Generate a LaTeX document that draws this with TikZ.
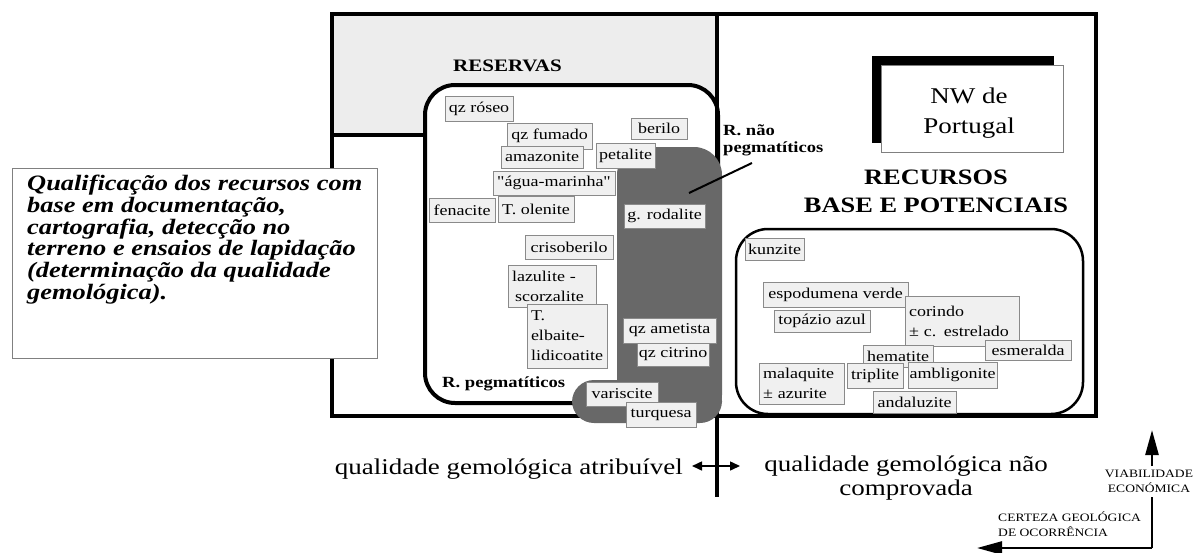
\documentclass[tikz,border=0pt]{standalone}
\usepackage{fontspec}
\setmainfont{Liberation Serif}[FakeStretch=1.2]
\newfontfamily\plainser{Liberation Serif}[FakeStretch=1.2]
\usetikzlibrary{arrows.meta}
\definecolor{resgray}{HTML}{EDEDED}
\definecolor{labfill}{HTML}{F0F0F0}
\definecolor{labdraw}{HTML}{8A8A8A}
\definecolor{darkreg}{HTML}{686868}
\newcommand\gembox[6]{\node[gem, minimum width=#4, minimum height=#5] (#1) at (#2,#3) {#6};}
\newcommand\gemboxl[7]{\node[gem, text width=#7, align=left, inner xsep=4pt, minimum height=#5] (#1) at (#2,#3) {#6};}
\begin{document}
\begin{tikzpicture}[x=1pt,y=-1pt,
  gem/.style={draw=labdraw, fill=labfill, line width=0.8pt, inner sep=1pt, font=\fontsize{15}{20}\selectfont},
  frame/.style={line width=4pt},
  axisline/.style={line width=2.5pt},
  bigtxt/.style={font=\fontsize{22.5}{24}\selectfont, inner sep=0pt},
  boldtxt/.style={font=\bfseries\fontsize{15.5}{17}\selectfont, inner sep=0pt},
  captxt/.style={font=\fontsize{11.3}{15}\selectfont, inner sep=0pt}]
\useasboundingbox (0,0) rectangle (1194,552);

% RESERVAS region
\fill[resgray] (332,14) rectangle (717,135);
% pegmatite rounded box
\draw[frame, fill=white, rounded corners=30] (425,85) rectangle (718,403);
\coordinate (hl0) at (332,135);
\coordinate (hl1) at (425,135);
\draw[line width=3.5pt] (hl0) -- (hl1);
% outer frame and divider
\draw[frame] (332,14) rectangle (1096,416);
\coordinate (dvtop) at (717,14);
\coordinate (dvbot) at (717,497);
\draw[line width=4.5pt] (dvtop) -- (dvbot);
% right rounded box
\draw[line width=2.5pt, rounded corners=32] (736,229) rectangle (1083,414);
% non-pegmatite dark region
\fill[darkreg, rounded corners=28] (617,147) rectangle (722,423);
\fill[darkreg, rounded corners=22] (572,380) rectangle (722,423);

% labels left
\gembox{qzr}{479}{108.5}{68}{25}{qz róseo}
\gembox{qzf}{549.5}{136}{85}{26}{qz fumado}
\gembox{ber}{659}{128.5}{56}{21}{berilo}
\gembox{ama}{542}{157}{82}{22}{amazonite}
\gembox{pet}{625.5}{155.5}{59}{25}{petalite}
\gembox{agm}{554}{183}{122}{24}{{\plainser"}água-marinha{\plainser"}}
\gembox{fen}{462}{210}{66}{24}{fenacite}
\gembox{tol}{536}{209}{76}{26}{T. olenite}
\gembox{grod}{664.5}{216}{81}{24}{g. rodalite}
\gembox{cri}{569}{247}{88}{24}{crisoberilo}
\gemboxl{laz}{552}{286}{88}{42}{lazulite -\\\hspace*{3pt}scorzalite}{80}
\gemboxl{tel}{567}{336}{80}{64}{T.\\elbaite-\\lidicoatite}{72}
\gembox{qza}{669.5}{330.5}{93}{25}{qz ametista}
\gembox{qzc}{673}{354.5}{72}{23}{qz citrino}
\gembox{var}{622}{394}{72}{24}{variscite}
\gembox{tur}{661}{414.5}{70}{25}{turquesa}
% labels right
\gembox{kun}{774.5}{249}{59}{22}{kunzite}
\gembox{esp}{835.5}{294.5}{145}{25}{espodumena verde}
\gembox{top}{822}{321}{96}{22}{topázio azul}
\gemboxl{cor}{962}{321}{114}{50}{corindo\\± c. estrelado}{106}
\gembox{esm}{1028}{350}{86}{20}{esmeralda}
\gembox{hem}{898}{356}{70}{22}{hematite}
\gemboxl{mal}{801.5}{383.5}{85}{41}{malaquite\\± azurite}{77}
\gembox{tri}{875}{375.5}{56}{25}{triplite}
\gembox{amb}{952.5}{375}{89}{26}{ambligonite}
\gembox{and}{914.5}{402}{83}{22}{andaluzite}

% titles
\node[font=\bfseries\fontsize{17.5}{20}\selectfont, inner sep=0pt] (res) at (507.5,66) {RESERVAS};
\node[boldtxt, anchor=west] (rpeg) at (442,384) {R. pegmatíticos};
\node[boldtxt, anchor=west, align=left] (rnp) at (723,140) {R. não\\pegmatíticos};
\coordinate (rnpa) at (752,163);
\coordinate (rnpb) at (689,193);
\draw[line width=2pt] (rnpa) -- (rnpb);

% NW de Portugal
\fill[black] (872,56) rectangle (1054,143);
\node[draw=gray, fill=white, line width=0.8pt, minimum width=182, minimum height=87, inner sep=0pt] (nwbox) at (972,108.5) {};
\node[font=\fontsize{22.5}{30}\selectfont, align=center, inner sep=0pt] (nwtxt) at (969,112.7) {NW de\\Portugal};

% RECURSOS
\node[font=\bfseries\fontsize{22}{28}\selectfont, align=center, inner sep=0pt] (rec) at (936,191.5) {RECURSOS\\BASE E POTENCIAIS};

% left text box
\node[draw=gray, fill=white, line width=1pt, minimum width=365, minimum height=190, inner sep=0pt] (qbox) at (194.5,263) {};
\node[font=\bfseries\itshape\fontsize{22}{21.7}\selectfont, align=left, anchor=north west, inner sep=0pt] (qtxt) at (27,175) {Qualificação dos recursos com\\base em documentação,\\cartografia, detecção no\\terreno e ensaios de lapidação\\(determinação da qualidade\\gemológica).};

% bottom labels
\node[bigtxt, anchor=east] (qatr) at (683,469) {qualidade gemológica atribuível};
\node[bigtxt, align=center] (qnao) at (906,477.7) {qualidade gemológica não\\comprovada};
\coordinate (dal) at (692,466);
\coordinate (dar) at (740,466);
\draw[line width=1.5pt, {Triangle[length=10pt,width=9pt]}-{Triangle[length=10pt,width=9pt]}] (dal) -- (dar);

% axes
\coordinate (ax0) at (1152,548);
\coordinate (axv1) at (1152,497);
\coordinate (axv2) at (1152,466);
\coordinate (axv3) at (1152,430);
\coordinate (axh) at (977,548);
\draw[axisline] (ax0) -- (axv1);
\draw[axisline, -{Triangle[length=25pt,width=13pt]}] (axv2) -- (axv3);
\draw[axisline, -{Triangle[length=25pt,width=13pt]}] (ax0) -- (axh);
\node[captxt, align=center] (viab) at (1149,481) {VIABILIDADE\\ECONÓMICA};
\node[captxt, align=left, anchor=west] (cert) at (998,524) {CERTEZA GEOLÓGICA\\DE OCORRÊNCIA};
\end{tikzpicture}
\end{document}
